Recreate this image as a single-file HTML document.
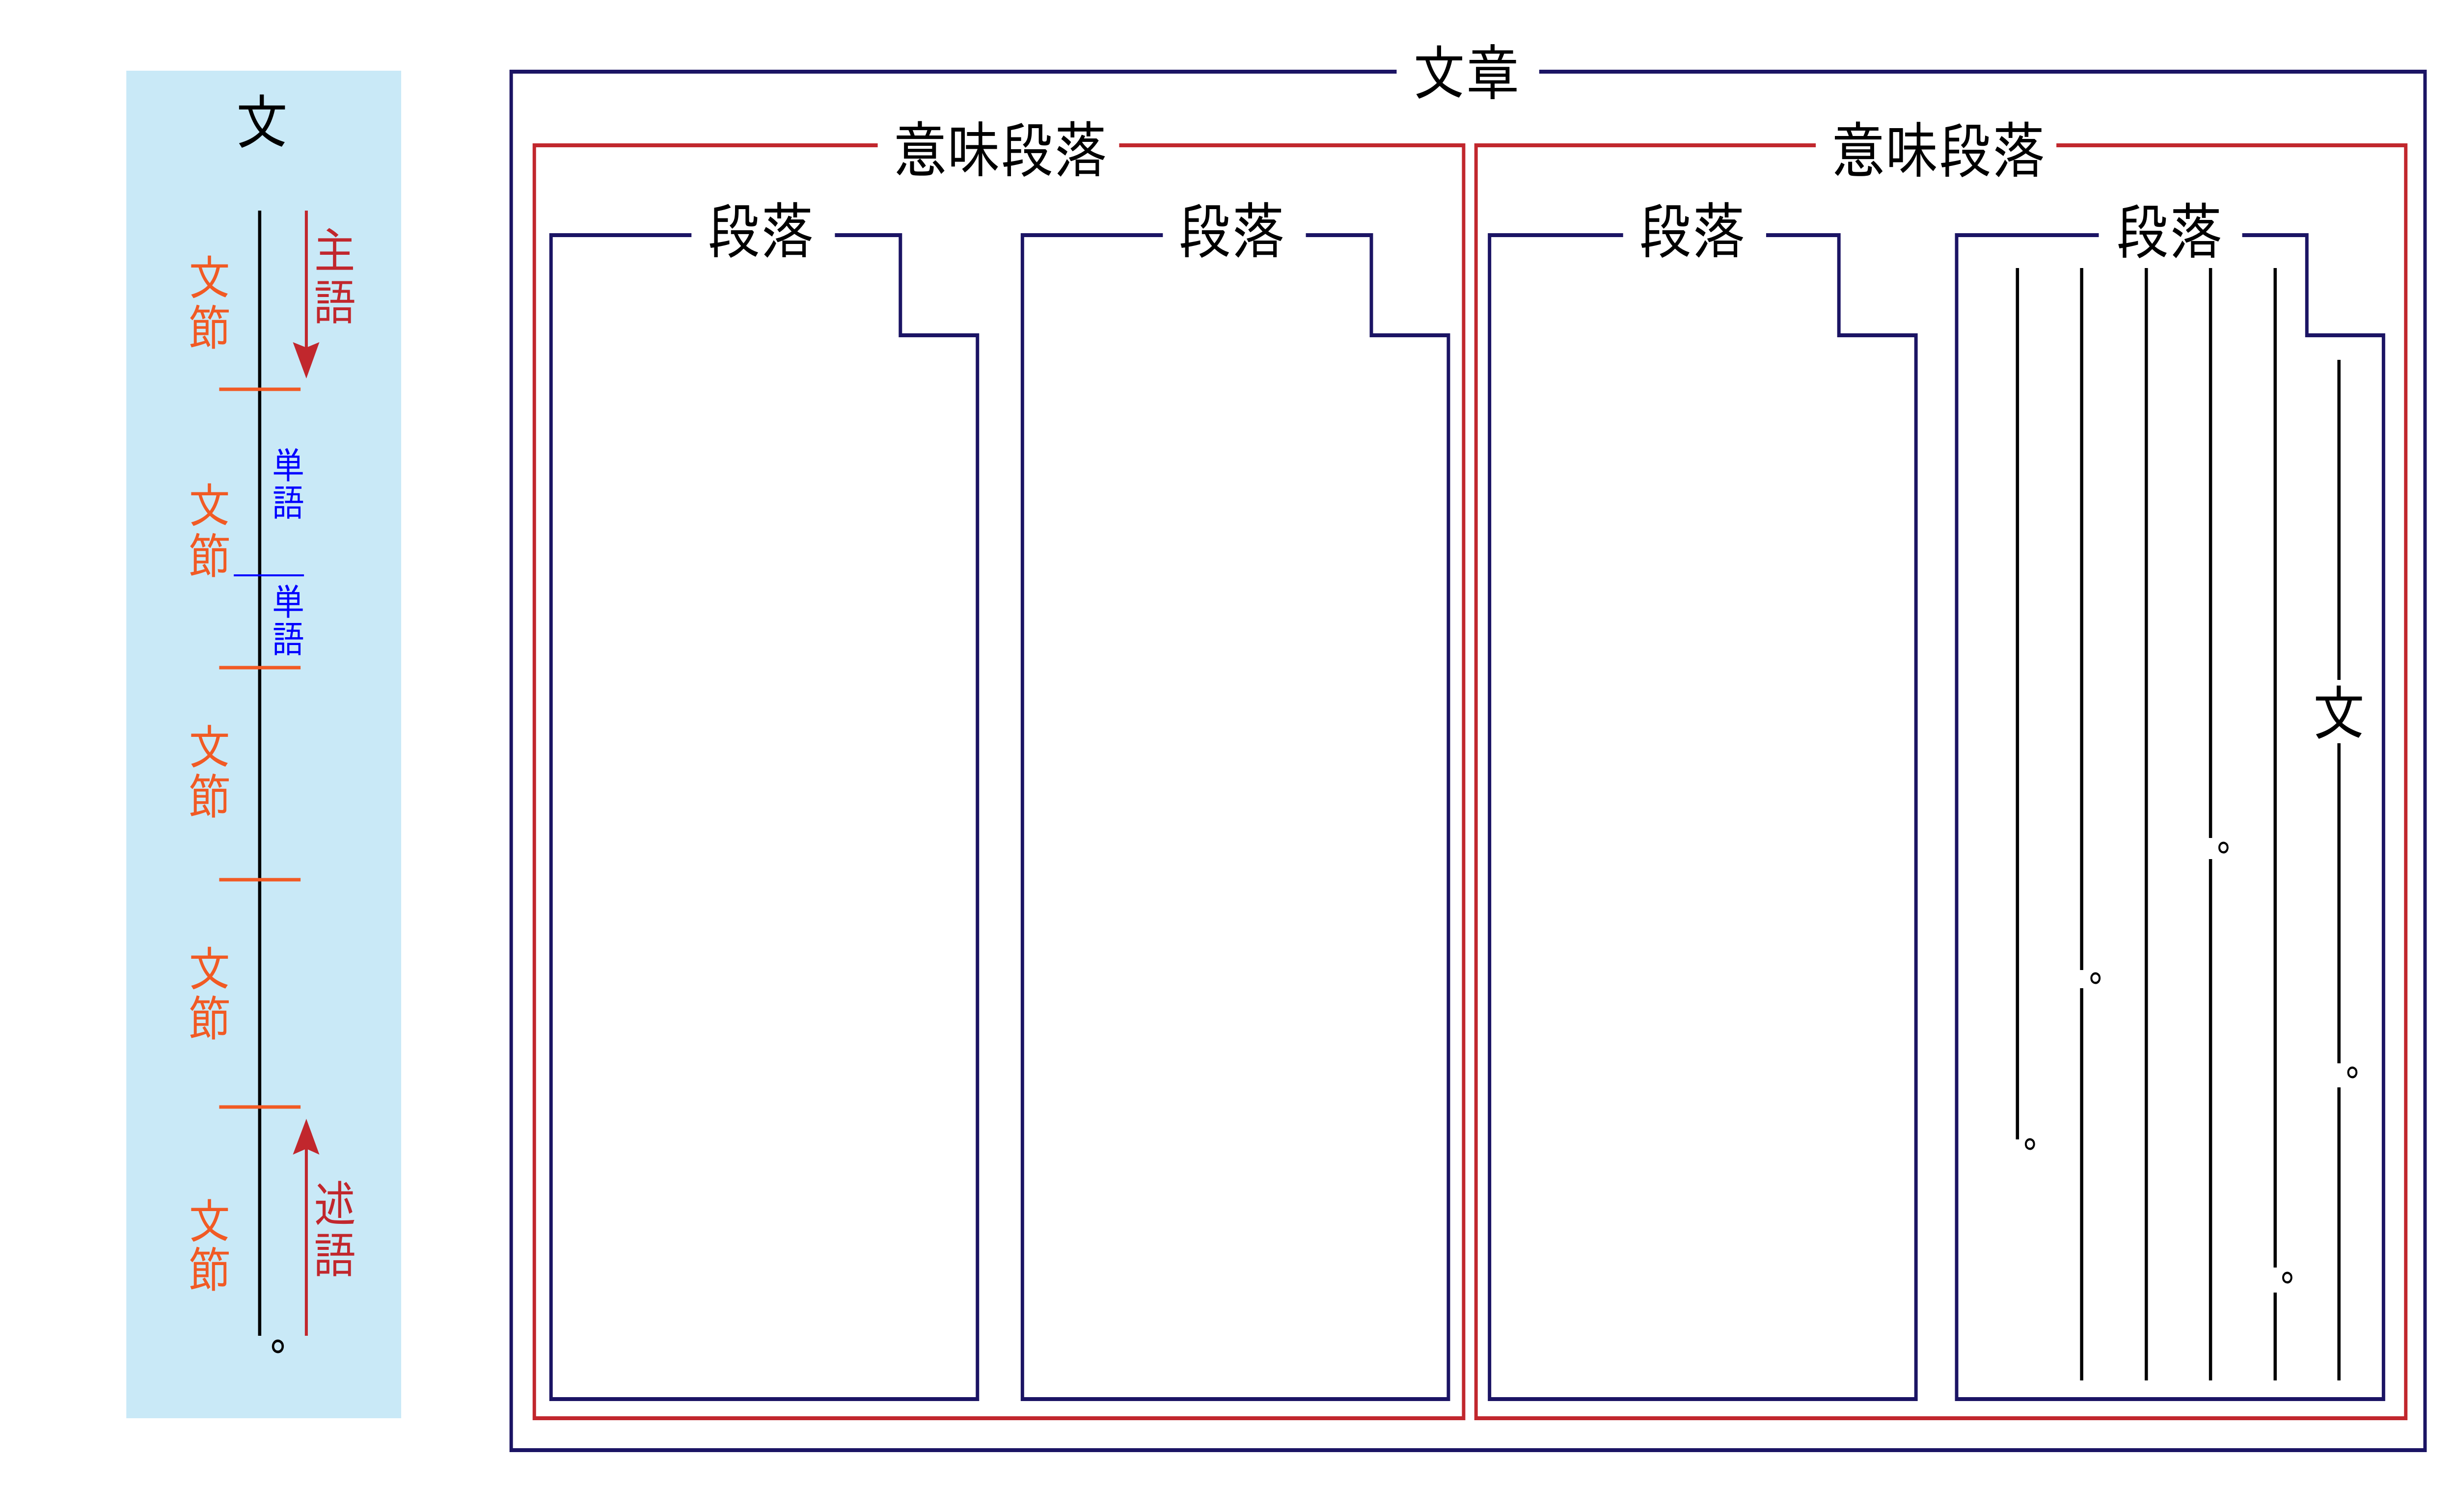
<!DOCTYPE html>
<html>
<head>
<meta charset="utf-8">
<style>
html,body{margin:0;padding:0;background:#fff;overflow:hidden;}
svg{display:block;width:100vw;height:100vh;}
text{font-family:"IPAGothic","Noto Sans CJK JP",sans-serif;}
</style>
</head>
<body>
<svg xmlns="http://www.w3.org/2000/svg" viewBox="0 0 5734 3080" preserveAspectRatio="none">
<rect x="0" y="0" width="5734" height="3080" fill="#fff"/>

<!-- LEFT PANEL -->
<rect x="295" y="144" width="642" height="2745" fill="#c9e9f7"/>
<text x="612" y="247" font-size="125" text-anchor="middle" dominant-baseline="central" fill="#000">文</text>

<line x1="606.5" y1="429" x2="606.5" y2="2721" stroke="#000" stroke-width="7.5"/>

<g stroke="#f15a24" stroke-width="7">
<line x1="512" y1="793" x2="702" y2="793"/>
<line x1="512" y1="1360" x2="702" y2="1360"/>
<line x1="512" y1="1792" x2="702" y2="1792"/>
<line x1="512" y1="2255" x2="702" y2="2255"/>
</g>
<line x1="546" y1="1172" x2="710" y2="1172" stroke="#0000ff" stroke-width="4"/>

<!-- arrows -->
<line x1="715.5" y1="429" x2="715.5" y2="712" stroke="#c1272d" stroke-width="7"/>
<polygon points="684,697 715.5,708 746,697 715.5,771" fill="#c1272d"/>
<line x1="715.5" y1="2336" x2="715.5" y2="2721" stroke="#c1272d" stroke-width="7"/>
<polygon points="684,2352 715.5,2340 746,2352 715.5,2279" fill="#c1272d"/>

<g font-size="100" text-anchor="middle" dominant-baseline="central" fill="#f15a24">
<text x="489.5" y="564">文</text><text x="489.5" y="666">節</text>
<text x="489.5" y="1028">文</text><text x="489.5" y="1131">節</text>
<text x="489.5" y="1520">文</text><text x="489.5" y="1621">節</text>
<text x="489.5" y="1972">文</text><text x="489.5" y="2073">節</text>
<text x="489.5" y="2486">文</text><text x="489.5" y="2585">節</text>
</g>
<g font-size="100" text-anchor="middle" dominant-baseline="central" fill="#c1272d">
<text x="782" y="509">主</text><text x="782" y="614">語</text>
<text x="782" y="2451">述</text><text x="782" y="2555">語</text>
</g>
<g font-size="76" text-anchor="middle" dominant-baseline="central" fill="#0000ff">
<text x="673.5" y="946">単</text><text x="673.5" y="1022">語</text>
<text x="673.5" y="1224">単</text><text x="673.5" y="1300">語</text>
</g>
<text x="630" y="2749" font-size="105" fill="#000">。</text>

<!-- RIGHT: frames -->
<g fill="none" stroke-width="8" stroke-linejoin="miter" stroke-linecap="butt">
<path d="M3262,146 H1194 V2954 H5664 V146 H3595" stroke="#1b1464"/>
<path d="M2050,296 H1248 V2889 H3418.5 V296 H2614" stroke="#c1272d"/>
<path d="M4241,296 H3447.5 V2889 H5619 V296 H4803" stroke="#c1272d"/>
<path d="M1615,479 H1287 V2850 H2283 V683 H2103 V479 H1950" stroke="#1b1464"/>
<path d="M2716,479 H2388 V2850 H3383 V683 H3203 V479 H3050" stroke="#1b1464"/>
<path d="M3791,479 H3479 V2850 H4475 V683 H4295 V479 H4125" stroke="#1b1464"/>
<path d="M4902,479 H4570 V2850 H5567 V683 H5388 V479 H5237" stroke="#1b1464"/>
</g>

<g font-size="125" text-anchor="middle" dominant-baseline="central" fill="#000">
<text x="3424" y="147">文章</text>
<text x="2336.5" y="304">意味段落</text>
<text x="4527.5" y="305">意味段落</text>
<text x="1776.5" y="469">段落</text>
<text x="2876.5" y="469">段落</text>
<text x="3952" y="469">段落</text>
<text x="5066.5" y="470">段落</text>
<text x="5463" y="1451">文</text>
</g>

<!-- sentence columns -->
<g stroke="#000" stroke-width="7.5">
<line x1="4712" y1="546" x2="4712" y2="2321"/>
<line x1="4862" y1="546" x2="4862" y2="1976"/>
<line x1="4862" y1="2013" x2="4862" y2="2812"/>
<line x1="5013" y1="546" x2="5013" y2="2812"/>
<line x1="5163" y1="546" x2="5163" y2="1707"/>
<line x1="5163" y1="1750" x2="5163" y2="2812"/>
<line x1="5314" y1="546" x2="5314" y2="2582"/>
<line x1="5314" y1="2633" x2="5314" y2="2812"/>
<line x1="5463" y1="733" x2="5463" y2="1385"/>
<line x1="5463" y1="1514" x2="5463" y2="2166"/>
<line x1="5463" y1="2215" x2="5463" y2="2812"/>
</g>
<g font-size="90" fill="#000">
<text x="4725" y="2336">。</text>
<text x="4878" y="1998">。</text>
<text x="5177" y="1732">。</text>
<text x="5326" y="2608">。</text>
<text x="5478" y="2190">。</text>
</g>
</svg>
</body>
</html>
